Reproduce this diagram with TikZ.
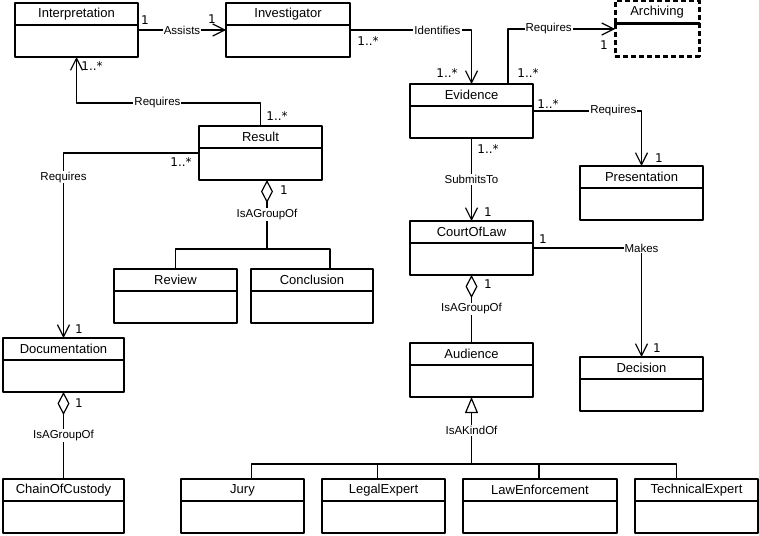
\documentclass[tikz,border=0pt]{standalone}
\usepackage{fontspec}
\setmainfont{Liberation Sans}
\newfontfamily\multfont{DejaVu Sans}
\usetikzlibrary{arrows.meta,positioning}

\begin{document}
\begin{tikzpicture}[x=1pt, y=-1pt, >={Straight Barb[length=12pt,width=12pt]}, line join=round, line cap=round,
	chead/.style={draw, line width=1.6pt, minimum height=22pt, inner sep=0pt, outer sep=0pt, anchor=north, font=\fontsize{13}{15}\selectfont},
	cbody/.style={draw, line width=1.6pt, minimum height=32pt, inner sep=0pt, outer sep=0pt},
	archbox/.style={line width=3pt, dash pattern=on 5pt off 3pt, line cap=butt},
	assoc/.style={line width=1.2pt},
	lbl/.style={fill=white, inner sep=1pt, font=\fontsize{11.5}{13}\selectfont},
	mult/.style={inner sep=0pt, font=\multfont\fontsize{12}{14}\selectfont},
	agg/.style={assoc, {Diamond[open, length=23pt, width=12pt]}-},
	gen/.style={assoc, {Triangle[open, length=16pt, width=13pt]}-}]
	\useasboundingbox (0,0) rectangle (759,535);
	% ==================== CLASSES ====================
	\foreach \n/\x/\y/\w/\t in {interp/76.5/3/123/Interpretation, invest/288/3/124/Investigator,
		evid/471.5/84/123/Evidence, pres/641.5/166/123/Presentation, result/260.5/126/123/Result,
		review/175.5/269/123/Review, concl/312/269/122/Conclusion, doc/63.5/338/121/Documentation,
		chain/63.5/479/121/ChainOfCustody, court/471.5/221/123/CourtOfLaw, decision/641.5/357/123/Decision,
		aud/471.5/343/123/Audience, jury/242.5/479/123/Jury, legal/383.5/479/123/LegalExpert,
		lawenf/540/479/154/LawEnforcement, tech/696.5/479/123/TechnicalExpert}
	{
		\node[chead, minimum width=\w pt] (\n) at (\x,\y) {\t};
		\node[cbody, minimum width=\w pt, below=0pt of \n] (\n-b) {};
	}
	\node[chead, archbox, minimum width=84pt, minimum height=23pt] (arch) at (657,1) {Archiving};
	\node[cbody, archbox, minimum width=84pt, below=0pt of arch] (arch-b) {};
	% ==================== ASSOCIATIONS ====================
	\draw[assoc, ->] ([yshift=-5pt]interp-b.north east) -- node[lbl] (l-assists) {Assists} ([yshift=-5pt]invest-b.north west);
	\draw[assoc, ->] ([yshift=-5pt]invest-b.north east) -| node[lbl, pos=0.36] (l-ident) {Identifies} (evid.north);
	\draw[assoc, ->] ([xshift=-25pt]evid.north east) |- node[lbl, pos=0.69] (l-reqarch) {Requires} ([yshift=-5pt]arch-b.north west);
	\draw[assoc, ->] ([yshift=-5pt]evid-b.north east) -| node[lbl, pos=0.37] (l-reqpres) {Requires} (pres.north);
	\draw[assoc, ->] (evid-b.south) -- node[lbl] (l-submit) {SubmitsTo} (court.north);
	\draw[assoc, ->] ([yshift=-5pt]court-b.north east) -| node[lbl] (l-makes) {Makes} (decision.north);
	\draw[assoc, ->] (result.north) -- ++(0,-23) -| node[lbl, pos=0.28] (l-reqint) {Requires} (interp-b.south);
	\draw[assoc, ->] ([yshift=-5pt]result-b.north west) -| node[lbl, pos=0.565] (l-reqdoc) {Requires} (doc.north);
	% ==================== AGGREGATIONS ====================
	\draw[agg] (court-b.south) -- node[lbl] (l-grpaud) {IsAGroupOf} (aud.north);
	\draw[agg] (doc-b.south) -- node[lbl] (l-grpdoc) {IsAGroupOf} (chain.north);
	\coordinate (grpbar) at (267,249);
	\draw[agg] ([xshift=6.5pt]result-b.south) -- node[lbl] (l-grpres) {IsAGroupOf} (grpbar);
	\foreach \s/\dx in {review/0, concl/18}
	\draw[assoc] ([xshift=\dx pt]\s.north) |- (grpbar);
	% ==================== GENERALISATION ====================
	\coordinate (kindbar) at (471.5,464);
	\draw[gen] (aud-b.south) -- node[lbl] (l-kind) {IsAKindOf} (kindbar);
	\foreach \s/\dx in {jury/9, legal/-6, lawenf/-1, tech/-20}
	\draw[assoc] ([xshift=\dx pt]\s.north) |- (kindbar);
	% ==================== MULTIPLICITIES ====================
	\foreach \t/\x/\y [count=\i] in {1/145/20, 1/212/19, 1..*/368/41, 1..*/92/66, 1..*/277/116,
		1..*/181/162, 1/284/190, 1..*/447/73, 1..*/528/73, 1/604/45, 1..*/548/104, 1/659/158,
		1..*/488/149, 1/488/212, 1/543/239, 1/488/284, 1/657/348, 1/79/329, 1/79/403}
	\node[mult] (m\i) at (\x,\y) {\t};
\end{tikzpicture}
\end{document}
